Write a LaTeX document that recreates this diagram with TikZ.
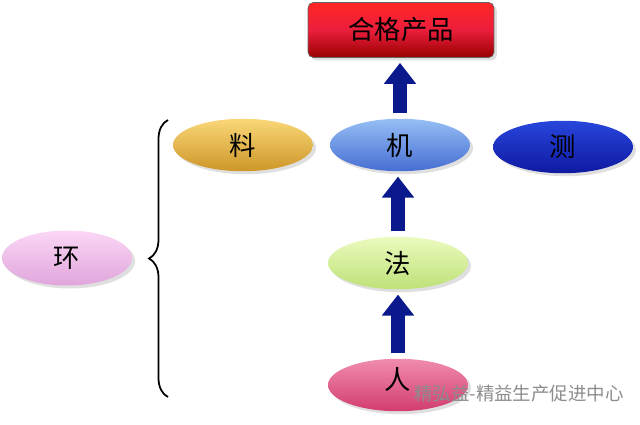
\documentclass[tikz,border=0pt]{standalone}
\usepackage{fontspec}
\newfontfamily\cjk{Noto Sans CJK SC}
\usetikzlibrary{arrows.meta,shadows,decorations.pathreplacing,shapes.geometric}
\definecolor{navy}{HTML}{0A1A8C}
\tikzset{
  ell/.style={ellipse,minimum width=2.8cm,minimum height=1.05cm,inner sep=0pt,
    drop shadow={shadow xshift=0.06cm,shadow yshift=-0.06cm,fill=black!25},font=\cjk\fontsize{15}{15}\selectfont},
  fat/.style={navy,line width=0.28cm,-{Triangle[width=0.62cm,length=0.42cm]},shorten <=0.1cm,shorten >=0.1cm}
}
\begin{document}
\begin{tikzpicture}[x=0.02cm,y=-0.02cm]
\useasboundingbox (0,0) rectangle (640,425);
\node[draw=black!60,rounded corners=3pt,minimum width=3.72cm,minimum height=1.1cm,
  top color=red!80!pink,bottom color=red!60!black,middle color={rgb,255:red,235;green,30;blue,60},
  drop shadow={shadow xshift=0.06cm,shadow yshift=-0.06cm,fill=black!25},
  font=\cjk\fontsize{15}{15}\selectfont] (hg) at (401,30) {合格产品};
\node[ell,top color={rgb,255:red,250;green,215;blue,120},bottom color={rgb,255:red,205;green,150;blue,40}] (liao) at (243,145) {料};
\node[ell,top color={rgb,255:red,150;green,190;blue,245},bottom color={rgb,255:red,70;green,110;blue,210}] (ji) at (400,145) {机};
\node[ell,top color={rgb,255:red,40;green,70;blue,220},bottom color={rgb,255:red,15;green,25;blue,160}] (ce) at (563,147) {测};
\node[ell,top color={rgb,255:red,235;green,250;blue,190},bottom color={rgb,255:red,190;green,225;blue,120}] (fa) at (398,263) {法};
\node[ell,top color={rgb,255:red,240;green,140;blue,175},bottom color={rgb,255:red,210;green,60;blue,110},text depth=0.25cm] (ren) at (398,385) {人};
\node[ell,minimum width=2.6cm,minimum height=1.1cm,top color={rgb,255:red,250;green,215;blue,245},bottom color={rgb,255:red,225;green,165;blue,220}] (huan) at (67,258) {环};
\draw[fat] (ren.north) -- (ren.north |- fa.south);
\draw[fat] (fa.north) -- (fa.north |- ji.south);
\draw[fat] (ji.north) -- (ji.north |- hg.south);
\coordinate (bt) at (168,120);
\coordinate (bb) at (168,397);
\draw[line width=1pt,decorate,decoration={brace,amplitude=0.38cm}] (bb) -- (bt);
\node[text=black!45,font=\cjk\fontsize{10.5}{10.5}\selectfont,anchor=west,inner sep=0pt] (wm) at (414,394) {精弘益-精益生产促进中心};
\end{tikzpicture}
\end{document}
